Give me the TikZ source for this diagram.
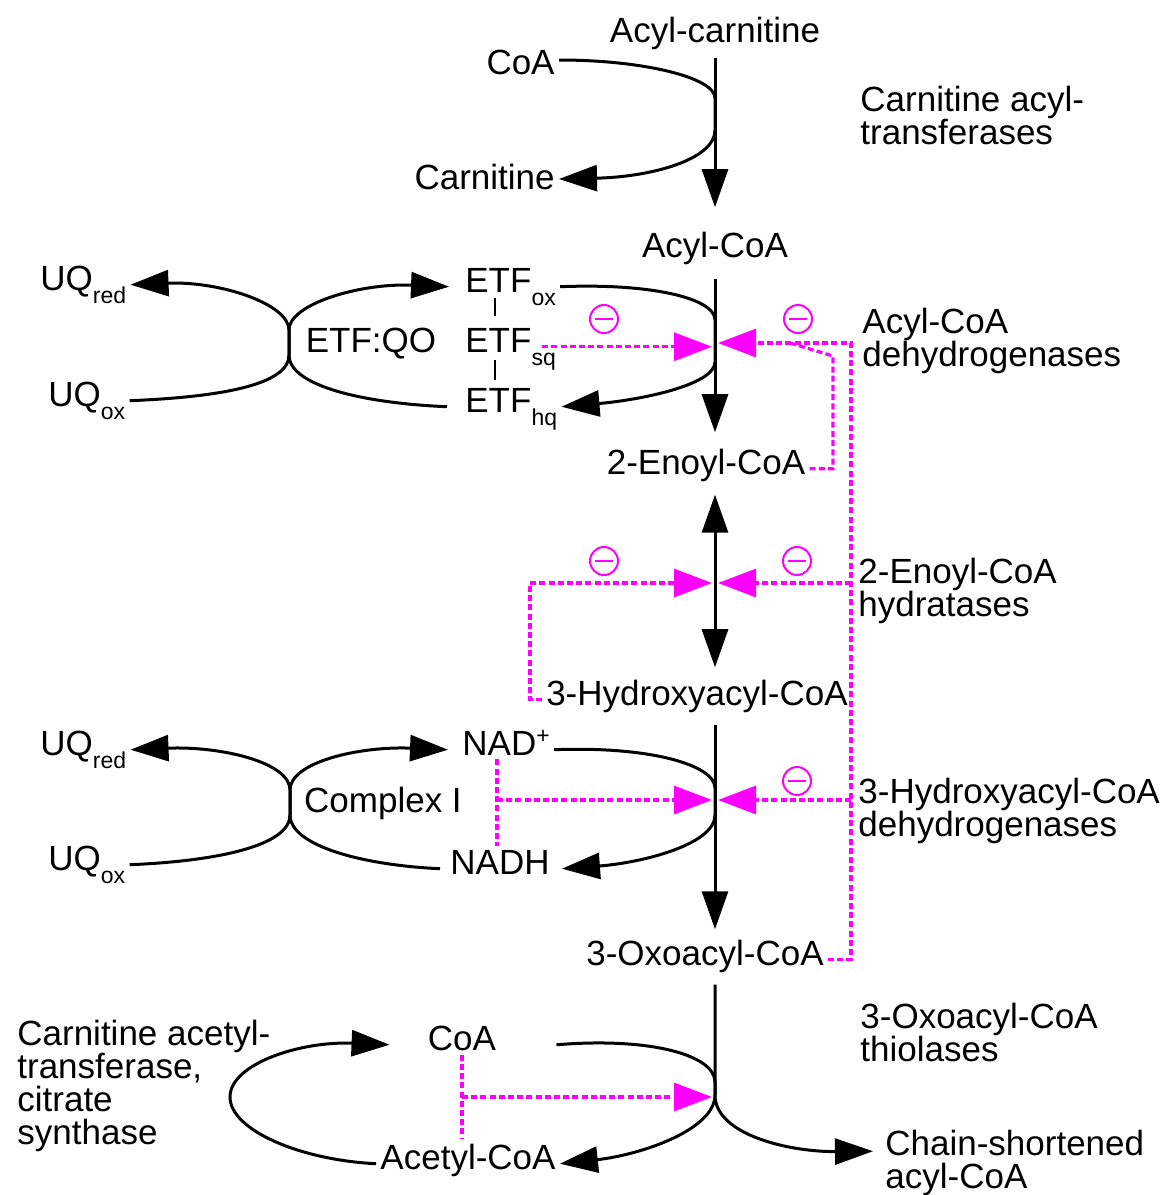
\documentclass[tikz,border=0pt]{standalone}
\usepackage{fontspec}
\setmainfont{Liberation Sans}
\usepackage{tikz}
\usetikzlibrary{arrows.meta,positioning}
\definecolor{inhcol}{RGB}{255,0,255}
\newcommand{\lsub}[1]{\raisebox{-6.5pt}{\fontsize{11.5}{12}\selectfont #1}}
\newcommand{\lsup}[1]{\raisebox{6pt}{\fontsize{11.5}{12}\selectfont #1}}

\begin{document}
\begin{tikzpicture}[x=0.5pt, y=-0.5pt,
          every node/.style = {inner sep=2pt, font=\fontsize{17.5}{16.5}\selectfont},
          lbl/.style = {align=left, anchor=north west},
          plain/.style = {line width=1.5pt},
          rxn/.style = {plain, -{Triangle[length=19pt,width=13pt]}},
          rxnboth/.style = {plain, {Triangle[length=19pt,width=13pt]}-{Triangle[length=19pt,width=13pt]}},
          bond/.style = {line width=1pt},
          inh/.style = {inhcol, line width=1.6pt, dash pattern=on 3pt off 1.6pt},
          inharr/.style = {inh, -{Triangle[length=19pt,width=14pt]}, shorten >=1.5pt},
          minus/.style = {circle, draw=inhcol, line width=1pt, minimum size=14pt, inner sep=0pt,
            path picture={\draw[inhcol, line width=1pt]
              ([xshift=2.5pt]path picture bounding box.west) -- ([xshift=-2.5pt]path picture bounding box.east);}}]
          \useasboundingbox (0,0) rectangle (1165,1195);

          \node[anchor=base] (acylcarn) at (715,42) {Acyl-carnitine};
          \node[anchor=base] (acylcoa) at (715,257) {Acyl-CoA};
          \node[anchor=base] (enoyl) at (706,474) {2-Enoyl-CoA};
          \node[anchor=base] (hydroxy) at (697,705) {3-Hydroxyacyl-CoA};
          \node[anchor=base] (oxo) at (705,965) {3-Oxoacyl-CoA};

          \node[anchor=base east] (coaA) at (559,74) {CoA};
          \node[anchor=base east] (carn) at (559,189) {Carnitine};

          \node[anchor=base west] (etfox) at (461,292) {ETF\lsub{ox}};
          \node[anchor=base west] (etfsq) at (461,352) {ETF\lsub{sq}};
          \node[anchor=base west] (etfhq) at (461,412) {ETF\lsub{hq}};
          \node (etfqo) at (371,344) {ETF:QO};
          \node[anchor=base west] (uqred1) at (36,290) {UQ\lsub{red}};
          \node[anchor=base west] (uqox1) at (44,406) {UQ\lsub{ox}};

          \node[anchor=base west] (nad) at (458,755) {NAD\lsup{+}};
          \node[anchor=base west] (nadh) at (446,874) {NADH};
          \node (cplx) at (383,803) {Complex I};
          \node[anchor=base west] (uqred2) at (36,755) {UQ\lsub{red}};
          \node[anchor=base west] (uqox2) at (44,870) {UQ\lsub{ox}};

          \node (coa2) at (462,1038) {CoA};
          \node[anchor=base] (acetyl) at (468,1169) {Acetyl-CoA};

          \node[lbl] (cat) at (856,82) {Carnitine acyl-\\transferases};
          \node[lbl] (acd) at (858,304) {Acyl-CoA\\dehydrogenases};
          \node[lbl] (hyd) at (854,554) {2-Enoyl-CoA\\hydratases};
          \node[lbl] (hadh) at (854,774) {3-Hydroxyacyl-CoA\\dehydrogenases};
          \node[lbl] (thio) at (856,999) {3-Oxoacyl-CoA\\thiolases};
          \node[lbl] (chain) at (881,1126) {Chain-shortened\\acyl-CoA};
          \node[lbl] (cat2) at (13,1016) {Carnitine acetyl-\\transferase,\\citrate\\synthase};

          \node[minus] (m1) at (604,319) {};
          \node[minus] (m2) at (798,319) {};
          \node[minus] (m3) at (604,561) {};
          \node[minus] (m4) at (797,561) {};
          \node[minus] (m5) at (797,781) {};

          \coordinate (j1a) at (715,98);
          \coordinate (j1b) at (715,130);
          \coordinate (j2a) at (715,320);
          \coordinate (j2b) at (715,362);
          \coordinate (x2) at (715,343);
          \coordinate (p2a) at (289,330);
          \coordinate (p2b) at (289,355);
          \coordinate (x3) at (715,583);
          \coordinate (h3) at (530,583);
          \coordinate (j4a) at (715,788);
          \coordinate (j4b) at (715,815);
          \coordinate (x4) at (715,800);
          \coordinate (n4) at (497,800);
          \coordinate (p4a) at (290,790);
          \coordinate (p4b) at (290,815);
          \coordinate (j5a) at (715,1082);
          \coordinate (j5) at (715,1095);
          \coordinate (x5) at (715,1097);
          \coordinate (n5) at (462,1097);
          \coordinate (loopL) at (230,1097);
          \coordinate (r2) at (851,343);
          \coordinate (r3) at (851,583);
          \coordinate (r4) at (851,800);

          \draw[rxn, shorten <=2pt, shorten >=10pt] (acylcarn.south) -- (acylcoa.north);
          \draw[rxn, shorten <=5pt, shorten >=6pt] (acylcoa.south) -- (acylcoa.south |- enoyl.north);
          \draw[rxnboth, shorten <=4.5pt, shorten >=4pt] (enoyl.south -| x3) -- (hydroxy.north -| x3);
          \draw[rxn, shorten <=4pt, shorten >=3pt] (hydroxy.south -| x4) -- (oxo.north -| x4);
          \draw[rxn, shorten <=4pt] (oxo.south -| j5) -- (j5)
            .. controls (715,1135) and (790,1152) .. ([xshift=-4pt,yshift=6pt]chain.west);

          \draw[rxn] ([yshift=7pt]coaA.base east) .. controls (645,60) and (715,78) .. (j1a) -- (j1b)
            .. controls (715,160) and (650,177) .. ([yshift=5pt]carn.base east);
          \draw[rxn] (etfox.mid east) .. controls (650,283) and (715,298) .. (j2a) -- (j2b)
            .. controls (715,385) and (640,400) .. (etfhq.mid east);
          \draw[rxn] (nad.mid east) .. controls (650,746) and (715,765) .. (j4a) -- (j4b)
            .. controls (715,845) and (640,863) .. ([xshift=4pt]nadh.mid east);
          \draw[rxn] ([xshift=28pt]coa2.mid east) .. controls (650,1037) and (715,1055) .. (j5a) -- (j5)
            .. controls (715,1130) and (640,1155) .. (acetyl.mid east);
          \draw[rxn] (acetyl.mid west) .. controls (300,1160) and (230,1130) .. (loopL)
            .. controls (230,1064) and (300,1041) .. ([xshift=-17pt]coa2.mid west);

          \draw[rxn] (uqox1.mid east) .. controls (220,397) and (289,385) .. (p2b) -- (p2a)
            .. controls (289,304) and (220,281) .. (uqred1.mid east);
          \draw[rxn] ([xshift=-7pt]etfhq.mid west) .. controls (360,403) and (289,385) .. (p2b) -- (p2a)
            .. controls (289,304) and (360,283) .. ([xshift=-6pt]etfox.mid west);
          \draw[rxn] (uqox2.mid east) .. controls (220,861) and (290,845) .. (p4b) -- (p4a)
            .. controls (290,762) and (220,746) .. (uqred2.mid east);
          \draw[rxn] ([xshift=-3pt]nadh.mid west) .. controls (360,865) and (290,845) .. (p4b) -- (p4a)
            .. controls (290,762) and (360,746) .. ([xshift=-5pt]nad.mid west);

          \draw[bond] ([xshift=17pt,yshift=-3pt]etfox.base west) -- ([xshift=17pt,yshift=18pt]etfsq.base west);
          \draw[bond] ([xshift=17pt,yshift=-4pt]etfsq.base west) -- ([xshift=17pt,yshift=16pt]etfhq.base west);

          \draw[inharr] ([xshift=-9pt]etfsq.mid east) -- (etfsq.mid east -| x2);
          \draw[inh] (enoyl.mid east) -| (833,356) -- (790,343);
          \draw[inharr] (oxo.mid east) -| (r2) -- (x2);
          \draw[inharr] (hydroxy.mid west) -| (h3) -- (x3);
          \draw[inharr] (r3) -- (x3);
          \draw[inh] (nad.south -| n4) -- (nadh.north -| n4);
          \draw[inharr] (n4) -- (x4);
          \draw[inharr] (r4) -- (x4);
          \draw[inh] (coa2.south -| n5) -- (acetyl.north -| n5);
          \draw[inharr] (n5) -- (x5);
        \end{tikzpicture}
\end{document}
